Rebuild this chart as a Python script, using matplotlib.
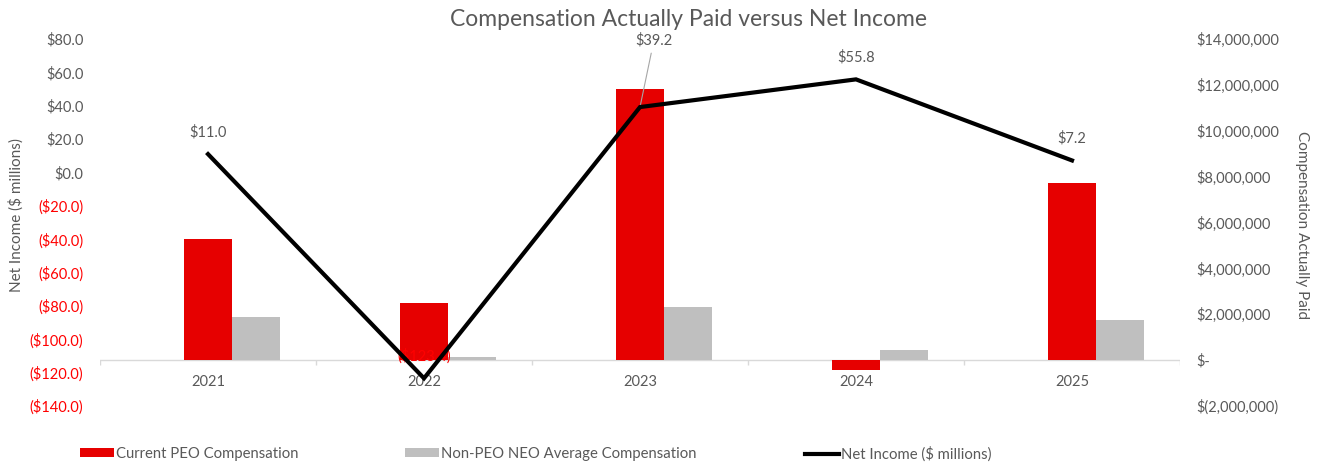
import matplotlib
matplotlib.use("Agg")
import matplotlib.pyplot as plt
from matplotlib.patches import Patch
from matplotlib.lines import Line2D

plt.rcParams['font.family'] = ['Lato', 'DejaVu Sans']

years = ["2021", "2022", "2023", "2024", "2025"]
peo_comp = [5.30e6, 2.48e6, 11.83e6, -0.43e6, 7.73e6]
non_peo_comp = [1.87e6, 0.14e6, 2.30e6, 0.45e6, 1.76e6]
net_income = [11.0, -123.4, 39.2, 55.8, 7.2]
net_income_labels = ["$11.0", "($123.4)", "$39.2", "$55.8", "$7.2"]

left_ticks = list(range(-140, 81, 20))
right_ticks = list(range(-2_000_000, 14_000_001, 2_000_000))

GRAY_TXT = "#595959"
RED = "#E60000"
NEG_RED = "#FF0000"
BAR_GRAY = "#BFBFBF"
AXIS_GRAY = "#D9D9D9"

W, H = 1317, 467
fig = plt.figure(figsize=(W / 100, H / 100), dpi=100)
ax = fig.add_axes([100 / W, (H - 406) / H, 1080 / W, 367 / H])
ax2 = ax.twinx()

# Bars on the compensation (right) axis
x = list(range(len(years)))
bw = 48 / 216
ax2.bar([i for i in x], peo_comp, width=bw, color=RED, zorder=2)
ax2.bar([i + bw for i in x], non_peo_comp, width=bw, color=BAR_GRAY, zorder=2)
ax2.set_ylim(-2_000_000, 14_000_000)
ax2.set_xlim(-0.5, len(years) - 0.5)

# category axis drawn at zero compensation
ax2.axhline(0, color=AXIS_GRAY, lw=1, zorder=1)
tick_len = 5 / 22.875 * 1e6
ax2.vlines([i - 0.5 for i in range(len(years) + 1)], -tick_len, 0,
           color=AXIS_GRAY, lw=1, zorder=1)
for i, yr in enumerate(years):
    ax2.annotate(yr, xy=(i, 0), xytext=(0, -16), textcoords="offset points",
                 ha="center", va="center", fontsize=10.5, color=GRAY_TXT)

# Net income line on the left axis, drawn above the bars
ax.set_zorder(ax2.get_zorder() + 1)
ax.patch.set_visible(False)
ax.plot(x, net_income, color="black", lw=3, zorder=3, solid_joinstyle="miter")
ax.set_ylim(-140, 80)
ax.set_xlim(-0.5, len(years) - 0.5)

for i, (v, lab) in enumerate(zip(net_income, net_income_labels)):
    col = NEG_RED if v < 0 else GRAY_TXT
    if lab == "$39.2":
        ax.annotate(lab, xy=(i, v), xytext=(10, 48), textcoords="offset points",
                    ha="center", va="center", fontsize=10.5, color=GRAY_TXT,
                    arrowprops=dict(arrowstyle="-", color="#A6A6A6", lw=0.8,
                                    shrinkA=2, shrinkB=0), zorder=2)
    else:
        ax.annotate(lab, xy=(i, v), xytext=(0, 16), textcoords="offset points",
                    ha="center", va="center", fontsize=10.5, color=col, zorder=2)


def fmt_left(v):
    if v < 0:
        return f"(${-v:.1f})"
    return f"${v:.1f}"


def fmt_right(v):
    if v == 0:
        return "$-"
    if v < 0:
        return f"$({-v:,.0f})"
    return f"${v:,.0f}"


ax.set_yticks(left_ticks)
ax.set_yticklabels([fmt_left(v) for v in left_ticks], fontsize=10.5)
for t, v in zip(ax.get_yticklabels(), left_ticks):
    t.set_color(NEG_RED if v < 0 else GRAY_TXT)
ax.tick_params(axis="y", length=0, pad=12)
ax.set_xticks([])

ax2.set_yticks(right_ticks)
ax2.set_yticklabels([fmt_right(v) for v in right_ticks], fontsize=10.5, color=GRAY_TXT)
ax2.tick_params(axis="y", length=0, pad=12)
ax2.set_xticks([])

for a in (ax, ax2):
    for s in a.spines.values():
        s.set_visible(False)

fig.text(16 / W, 1 - 215 / H, "Net Income ($ millions)", rotation=90,
         ha="center", va="center", fontsize=11, color=GRAY_TXT)
fig.text(1302 / W, 1 - 225 / H, "Compensation Actually Paid", rotation=-90,
         ha="center", va="center", fontsize=11, color=GRAY_TXT)

fig.text(689 / W, 1 - 19 / H, "Compensation Actually Paid versus Net Income",
         ha="center", va="center", fontsize=16.5, color=GRAY_TXT)

# legend entries laid out along the bottom
entries = [
    (Patch(facecolor=RED), "Current PEO Compensation", 80),
    (Patch(facecolor=BAR_GRAY), "Non-PEO NEO Average Compensation", 405),
    (Line2D([], [], color="black", lw=3), "Net Income ($ millions)", 805),
]
for handle, label, xpos in entries:
    leg = fig.legend([handle], [label], loc="center left",
                     bbox_to_anchor=(xpos / W, 1 - 454 / H), frameon=False,
                     fontsize=10.7, handlelength=2.3, handleheight=0.55,
                     handletextpad=0.15, borderpad=0, borderaxespad=0)
    for t in leg.get_texts():
        t.set_color(GRAY_TXT)

fig.savefig("out.png", dpi=100)
